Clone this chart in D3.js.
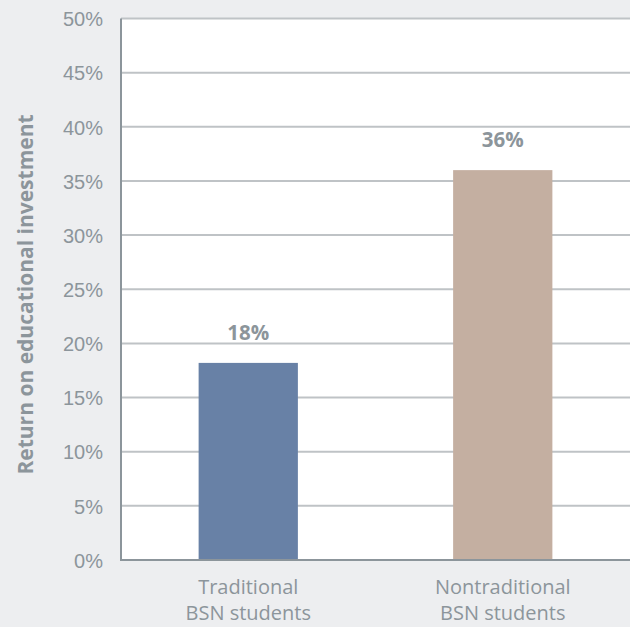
<!DOCTYPE html>
<html>
<head>
<meta charset="utf-8">
<script src="https://cdn.jsdelivr.net/npm/d3@7"></script>
<style>
  body { margin: 0; background: #edeef0; }
  svg { display: block; font-family: "Open Sans", sans-serif; }
</style>
</head>
<body>
<div id="graph1"></div>
<script>
// data
const categories = [['Traditional', 'BSN students'], ['Nontraditional', 'BSN students']];
const returnPct = [18.2, 36];
const valueLabels = ['18%', '36%'];
const yTicks = [0, 5, 10, 15, 20, 25, 30, 35, 40, 45, 50];
const barColors = ['#6881a6', '#c4afa1'];

const width = 630, height = 627;
const margin = { top: 18.5, right: 0, bottom: 67, left: 121 };
const plotW = width - margin.left - margin.right;
const plotH = height - margin.top - margin.bottom;
const textColor = '#8c959b';

let svg = d3.select('#graph1')
  .append('svg')
  .attr('width', width)
  .attr('height', height)
  .style('background', '#edeef0')
  .append('g')
  .attr('transform', `translate(${margin.left}, ${margin.top})`);

let x = d3.scaleBand()
  .domain(d3.range(categories.length))
  .range([0, plotW])
  .paddingInner(0.61)
  .paddingOuter(0.305);

let y = d3.scaleLinear()
  .domain([0, 50])
  .range([plotH, 0]);

// white plot area
svg.append('rect')
  .attr('x', 0)
  .attr('y', 0)
  .attr('width', plotW)
  .attr('height', plotH)
  .attr('fill', '#fff');

// gridlines
svg.append('g')
  .selectAll('line')
  .data(yTicks.filter(d => d > 0))
  .enter()
  .append('line')
  .attr('x1', 0)
  .attr('x2', plotW)
  .attr('y1', d => y(d))
  .attr('y2', d => y(d))
  .attr('stroke', '#bfc3c6')
  .attr('stroke-width', 2);

// y axis
let yAxis = svg.append('g')
  .call(d3.axisLeft(y).tickValues(yTicks).tickFormat(d => d + '%').tickSize(0).tickPadding(18));
yAxis.select('.domain').remove();
yAxis.selectAll('text')
  .style('font-size', '20px')
  .attr('fill', textColor)
  .attr('dy', '0.36em');

// bars
svg.selectAll('rect.bar')
  .data(returnPct)
  .enter()
  .append('rect')
  .attr('class', 'bar')
  .attr('x', (d, i) => x(i))
  .attr('y', d => y(d))
  .attr('width', x.bandwidth())
  .attr('height', d => plotH - y(d))
  .attr('fill', (d, i) => barColors[i]);

// value labels
svg.selectAll('text.val')
  .data(returnPct)
  .enter()
  .append('text')
  .attr('class', 'val')
  .attr('x', (d, i) => x(i) + x.bandwidth() / 2)
  .attr('y', d => y(d) - 23)
  .style('text-anchor', 'middle')
  .style('font-size', '20.5px')
  .style('font-weight', 'bold')
  .attr('fill', textColor)
  .text((d, i) => valueLabels[i]);

// axis lines
svg.append('line')
  .attr('x1', 0).attr('x2', 0)
  .attr('y1', 0).attr('y2', plotH)
  .attr('stroke', '#8c959b')
  .attr('stroke-width', 2);
svg.append('line')
  .attr('x1', -1).attr('x2', plotW)
  .attr('y1', plotH).attr('y2', plotH)
  .attr('stroke', '#8c959b')
  .attr('stroke-width', 2);

// category labels
let catLabels = svg.selectAll('text.cat')
  .data(categories)
  .enter()
  .append('text')
  .attr('class', 'cat')
  .attr('x', (d, i) => x(i) + x.bandwidth() / 2)
  .attr('y', plotH + 34)
  .style('text-anchor', 'middle')
  .style('font-size', '20px')
  .attr('fill', textColor);

catLabels.selectAll('tspan')
  .data(d => d)
  .enter()
  .append('tspan')
  .attr('x', function () { return this.parentNode.getAttribute('x'); })
  .attr('dy', (d, i) => i === 0 ? 0 : 26)
  .text(d => d);

// y axis title
svg.append('text')
  .attr('transform', `translate(${33 - margin.left}, ${294.5 - margin.top}) rotate(-90)`)
  .style('text-anchor', 'middle')
  .style('font-size', '21px')
  .style('font-weight', 'bold')
  .attr('fill', textColor)
  .text('Return on educational investment');
</script>
</body>
</html>
